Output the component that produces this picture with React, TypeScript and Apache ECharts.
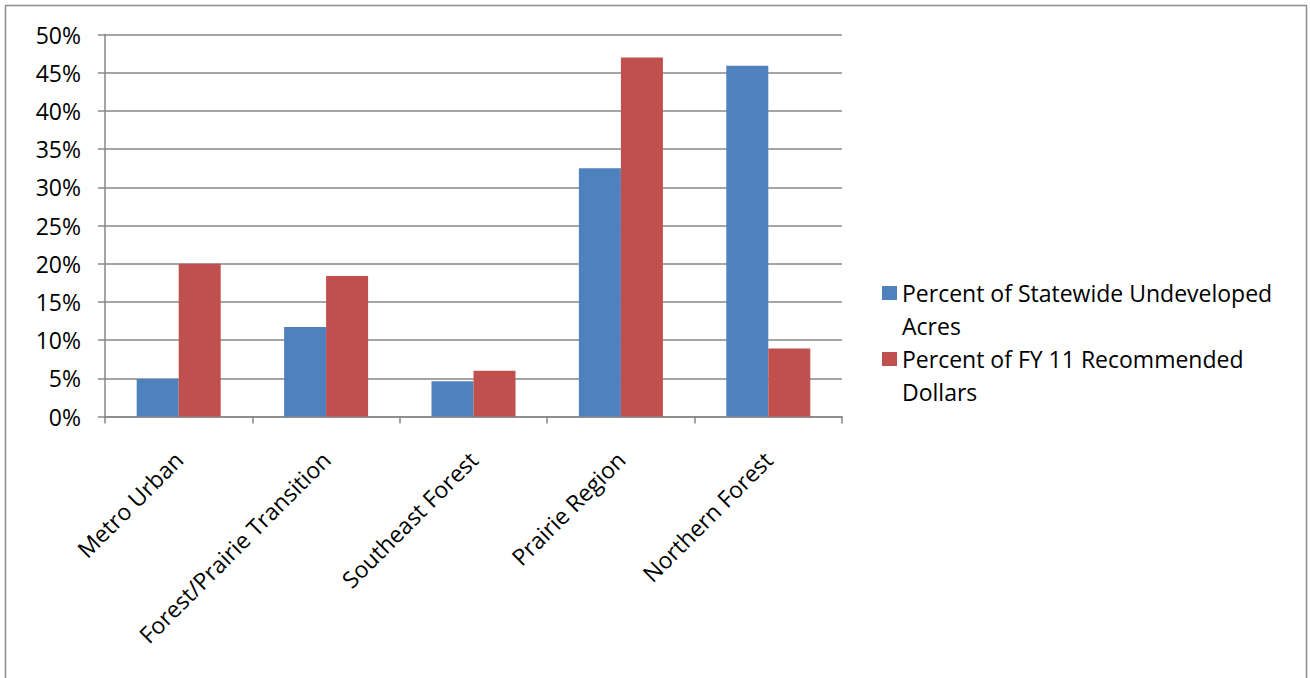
import React, { useEffect, useRef } from "react";
import * as echarts from "echarts";

const categories = ["Metro Urban", "Forest/Prairie Transition", "Southeast Forest", "Prairie Region", "Northern Forest"];
const seriesNames = ["Percent of Statewide Undeveloped\nAcres", "Percent of FY 11 Recommended\nDollars"];
const undevelopedAcres = [4.9, 11.7, 4.6, 32.5, 45.9];
const recommendedDollars = [20.0, 18.4, 6.0, 47.0, 8.9];
const yTicks = { min: 0, max: 50, interval: 5 };

const FONT = "'Open Sans', Lato, sans-serif";
const GRAY = "#878787";

export default function App() {
  const ref = useRef<HTMLDivElement>(null);
  useEffect(() => {
    if (!ref.current) return;
    const chart = echarts.init(ref.current, undefined, { renderer: "svg" });
    chart.setOption({
      animation: false,
      backgroundColor: "#ffffff",
      textStyle: { fontFamily: FONT },
      graphic: [
        {
          type: "rect",
          shape: { x: 5.5, y: 5.5, width: 1301, height: 690 },
          style: { fill: "none", stroke: "#8c8c8c", lineWidth: 1.5 },
          silent: true,
        },
      ],
      grid: { left: 105, right: 468, top: 34.5, bottom: 261.5 },
      legend: {
        orient: "vertical",
        left: 877,
        top: 238.5,
        itemWidth: 15,
        itemHeight: 14,
        itemGap: -33,
        icon: "rect",
        // leading blank line keeps the first text line level with the colour key
        formatter: (name: string) => "\n" + name,
        textStyle: {
          fontFamily: FONT,
          fontSize: 23,
          color: "#000",
          lineHeight: 33,
        },
        data: seriesNames,
      },
      xAxis: {
        type: "category",
        data: categories,
        axisLine: { show: true, lineStyle: { color: GRAY, width: 1.5 } },
        axisTick: { show: true, length: 7, lineStyle: { color: GRAY, width: 1.5 } },
        axisLabel: {
          rotate: 45,
          margin: 39,
          fontFamily: FONT,
          fontSize: 23,
          color: "#000",
          interval: 0,
        },
      },
      yAxis: {
        type: "value",
        min: yTicks.min,
        max: yTicks.max,
        interval: yTicks.interval,
        axisLine: { show: true, lineStyle: { color: GRAY, width: 1.5 } },
        axisTick: { show: true, length: 7, lineStyle: { color: GRAY, width: 1.5 } },
        splitLine: { show: true, lineStyle: { color: GRAY, width: 1.5 } },
        axisLabel: {
          formatter: (v: number) => `${v}%`,
          margin: 24,
          fontFamily: FONT,
          fontSize: 23,
          color: "#000",
        },
      },
      series: [
        {
          name: seriesNames[0],
          type: "bar",
          data: undevelopedAcres,
          itemStyle: { color: "#4F81BD" },
          barGap: "0%",
          barCategoryGap: "43%",
        },
        {
          name: seriesNames[1],
          type: "bar",
          data: recommendedDollars,
          itemStyle: { color: "#C0504D" },
          barGap: "0%",
          barCategoryGap: "43%",
        },
      ],
    });
    return () => chart.dispose();
  }, []);
  return (
    <div
      ref={ref}
      style={{ position: "fixed", left: 0, top: 0, width: 1310, height: 678 }}
    />
  );
}
